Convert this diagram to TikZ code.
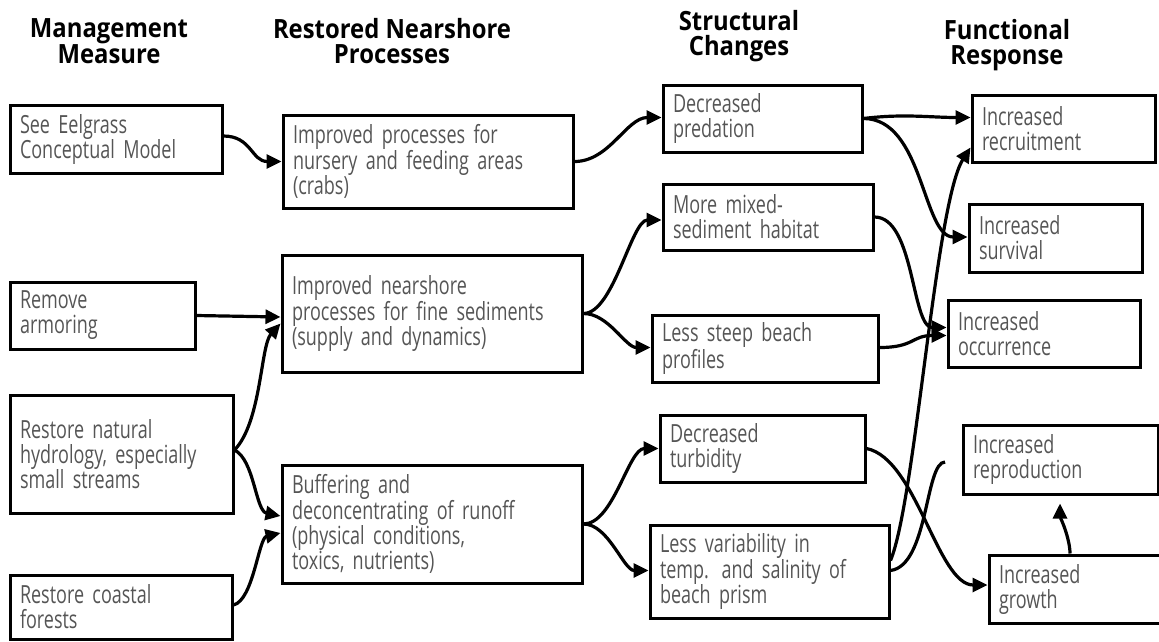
\documentclass[tikz,border=0pt]{standalone}
\usepackage{fontspec}
\usepackage{tikz}
\usetikzlibrary{arrows.meta}
\usepackage{xcolor}
\definecolor{boxgray}{RGB}{85,85,85}
\newfontfamily\boxfont{Open Sans}[FakeStretch=0.72, WordSpace=0.8]
\newfontfamily\headfont{Open Sans}[FakeStretch=0.9]

\begin{document}
\begin{tikzpicture}[x=1pt, y=-1pt,
    stage/.style={draw, line width=3pt, text=boxgray, align=left, inner xsep=10pt, inner ysep=0pt,
      font=\boxfont\fontsize{25}{25}\selectfont},
    colhead/.style={align=center, inner sep=0pt, font=\headfont\bfseries\fontsize{26.5}{25}\selectfont},
    link/.style={line width=3.2pt, -{Triangle[length=15pt,width=14pt]}}]
    \useasboundingbox (0,0) rectangle (1159,641);
    % column headers
    \node[colhead] (hmeasure) at (109, 41) {Management\\Measure};
    \node[colhead] (hprocess) at (392, 41) {Restored Nearshore\\Processes};
    \node[colhead] (hstruct) at (739, 36) {Structural\\Changes};
    \node[colhead] (hresp) at (1007, 45) {Functional\\Response};
    % management measures
    \node[stage, text width=192pt, minimum height=68pt] (eel) at (116, 139) {See Eelgrass\\Conceptual Model};
    \node[stage, text width=165pt, minimum height=67pt] (armor) at (102.5, 315.5) {Remove\\armoring};
    \node[stage, text width=203pt, minimum height=118pt] (hydro) at (121.5, 454) {Restore natural\\hydrology, especially\\small streams};
    \node[stage, text width=202pt, minimum height=64pt] (forest) at (121, 607) {Restore coastal\\forests};
    % restored processes
    \node[stage, text width=270pt, minimum height=93pt] (nursery) at (428, 161.5) {Improved processes for\\nursery and feeding areas\\(crabs)};
    \node[stage, text width=280pt, minimum height=117pt] (fine) at (432, 313.5) {Improved nearshore\\processes for fine sediments\\(supply and dynamics)};
    \node[stage, text width=280pt, minimum height=118pt] (runoff) at (432, 524) {Buffering and\\deconcentrating of runoff\\(physical conditions,\\toxics, nutrients)};
    % structural changes
    \node[stage, text width=179pt, minimum height=67pt] (pred) at (762.5, 118.5) {Decreased\\predation};
    \node[stage, text width=190pt, minimum height=66pt] (mixed) at (768, 217) {More mixed-\\sediment habitat};
    \node[stage, text width=206pt, minimum height=67pt] (steep) at (765, 348.5) {Less steep beach\\profiles};
    \node[stage, text width=185pt, minimum height=67pt] (turb) at (762.5, 448.5) {Decreased\\turbidity};
    \node[stage, text width=219pt, minimum height=93pt] (var) at (769.5, 571.5) {Less variability in\\temp. and salinity of\\beach prism};
    % functional responses
    \node[stage, text width=163pt, minimum height=67pt] (recruit) at (1063.5, 128.5) {Increased\\recruitment};
    \node[stage, text width=153pt, minimum height=68pt] (surv) at (1055.5, 238) {Increased\\survival};
    \node[stage, text width=172pt, minimum height=67pt] (occur) at (1044, 333.5) {Increased\\occurrence};
    \node[stage, text width=175pt, minimum height=69pt] (repro) at (1060.5, 459.5) {Increased\\reproduction};
    \node[stage, text width=166pt, minimum height=68pt] (growth) at (1082, 589) {Increased\\growth};
    \coordinate (loose) at (945, 462);
    % measures to processes
    \draw[link] ([yshift=3pt]eel.east) .. controls +(28,0) and +(-30,0) .. (nursery.west);
    \draw[link] (armor.east) -- ([yshift=-3.5pt]fine.west);
    \draw[link] ([yshift=4pt]hydro.east) .. controls +(27,-28) and +(-20,22) .. ([yshift=-10pt]fine.west);
    \draw[link] ([yshift=4pt]hydro.east) .. controls +(20,10) and +(-25,-5) .. ([yshift=8pt]runoff.west);
    \draw[link] ([yshift=2pt]forest.east) .. controls +(20,-5) and +(-22,5) .. ([yshift=-9pt]runoff.west);
    % processes to structure
    \draw[link] (nursery.east) .. controls +(35,0) and +(-35,0) .. ([yshift=1pt]pred.west);
    \draw[link] (fine.east) .. controls +(30,0) and +(-30,0) .. ([yshift=-3pt]mixed.west);
    \draw[link] (fine.east) .. controls +(25,0) and +(-25,0) .. ([yshift=1pt]steep.west);
    \draw[link] (runoff.east) .. controls +(30,0) and +(-30,0) .. (turb.west);
    \draw[link] (runoff.east) .. controls +(25,0) and +(-25,0) .. ([yshift=1pt]var.west);
    % structure to response
    \draw[link] (pred.east) .. controls +(40,-5) and +(-40,0) .. ([yshift=11pt]recruit.west);
    \draw[link] (pred.east) .. controls +(60,0) and +(-45,0) .. ([yshift=1pt]surv.west);
    \draw[link] (mixed.east) .. controls +(40,0) and +(-35,0) .. ([yshift=6pt]occur.west);
    \draw[link] ([yshift=1pt]steep.east) .. controls +(35,0) and +(-35,0) .. ([yshift=-2pt]occur.west);
    \draw[link] ([yshift=11pt]var.east) .. controls +(25,-60) and +(-35,55) .. ([yshift=-19pt]recruit.west);
    \draw[line width=3.2pt] ([yshift=1pt]var.east) .. controls +(38,-5) and +(-20,0) .. (loose);
    \draw[link] (turb.east) .. controls +(50,10) and +(-50,0) .. ([yshift=4pt]growth.west);
    \draw[link, shorten >=8pt] ([xshift=-12pt]growth.north) .. controls +(0,-15) and +(0,20) .. ([xshift=-0.5pt]repro.south);
\end{tikzpicture}
\end{document}
